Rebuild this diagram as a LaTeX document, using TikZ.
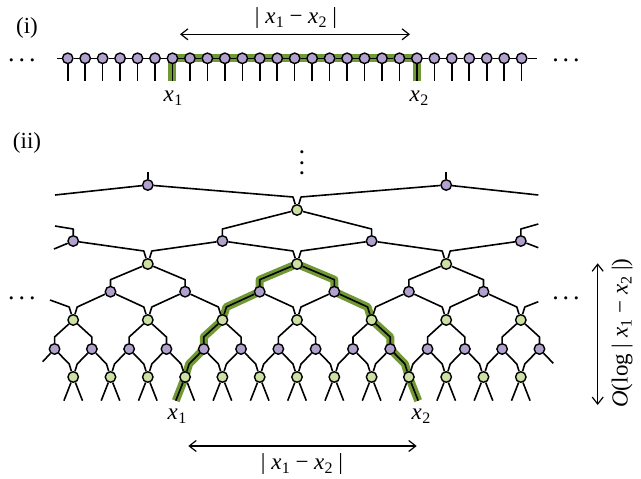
\documentclass[tikz,border=0pt]{standalone}
\usepackage{fontspec}
\setmainfont{Liberation Serif}
\usetikzlibrary{calc,arrows.meta}
\pgfdeclarelayer{hl}
\pgfdeclarelayer{bg}
\pgfsetlayers{hl,bg,main}
\definecolor{pur}{RGB}{178,160,205}
\definecolor{grn}{RGB}{205,225,165}
\definecolor{hlc}{RGB}{112,152,52}
\newcommand\xsub[1]{{\itshape x}\kern0.3pt\raisebox{-0.4ex}{\fontsize{16}{16}\selectfont #1}}
\begin{document}
\begin{tikzpicture}[x=1pt,y=-1pt,
  pnode/.style={circle,draw=black,line width=1.4pt,fill=pur,minimum size=10.5pt,inner sep=0pt},
  gnode/.style={circle,draw=black,line width=1.4pt,fill=grn,minimum size=10.5pt,inner sep=0pt},
  wire/.style={line width=1.6pt,black,line join=round},
  hlpath/.style={line width=8pt,hlc,line join=round,line cap=butt},
  dim/.style={line width=1.2pt,{Straight Barb[length=7pt,width=11pt]}-{Straight Barb[length=7pt,width=11pt]}},
  lbl/.style={font=\fontsize{23}{27}\selectfont,inner sep=0pt},
  dots/.style={font=\fontsize{26}{28}\selectfont,inner sep=0pt}]
\useasboundingbox (0,0) rectangle (641,479);
% ---------------- (i) ----------------
\node[lbl] (ti) at (27,28) {(i)};
\foreach \k in {0,...,26}{
  \node[pnode] (a\k) at ({67.7+17.46*\k},58.3) {};
  \coordinate (b\k) at ({67.7+17.46*\k},81);
}
\coordinate (aL) at (56.7,58.3);
\coordinate (aR) at (536.7,58.3);
\begin{pgfonlayer}{bg}
  \draw[wire] (aL) -- (a0);
  \draw[wire] (a26) -- (aR);
  \foreach \k in {0,...,25}{\pgfmathtruncatemacro\n{\k+1}
    \draw[wire] (a\k) -- (a\n);}
  \foreach \k in {0,...,26}{\draw[wire] (a\k) -- (b\k);}
\end{pgfonlayer}
\begin{pgfonlayer}{hl}
  \draw[hlpath] (b6) -- (a6.center) -- (a20.center) -- (b20);
\end{pgfonlayer}
\node[dots] (da) at (22,60) {.\kern4pt.\kern4pt.};
\node[dots] (db) at (566,60) {.\kern4pt.\kern4pt.};
\node[lbl] (x1a) at (173,98) {\xsub{1}};
\node[lbl] (x2a) at (419,98) {\xsub{2}};
\coordinate (t1) at (180,34.3);
\coordinate (t2) at (410,34.3);
\draw[dim] (t1) -- (t2);
\node[lbl] (tl) at (296,18) {| \xsub{1} − \xsub{2} |};
% ---------------- (ii) ----------------
\node[lbl] (tii) at (27,143) {(ii)};
\foreach \i in {0,...,12} \node[gnode] (g7-\i) at ({297+37.3*(\i-6)},377) {};
\foreach \i in {0,...,13} \node[pnode] (p6-\i) at ({297+37.3*(\i-6.5)},349) {};
\foreach \j in {0,...,6} \node[gnode] (g5-\j) at ({297+74.6*(\j-3)},320) {};
\foreach \m in {0,...,5} \node[pnode] (p4-\m) at ({297+37.3*(2*\m-5)},291.7) {};
\foreach \n in {0,1,2} \node[gnode] (g3-\n) at ({297+149.2*(\n-1)},264) {};
\foreach \q in {0,...,3} \node[pnode] (p2-\q) at ({297+37.3*(4*\q-6)},241) {};
\node[gnode] (g1) at (297,210) {};
\node[pnode] (p0-0) at ({297-149.2},185) {};
\node[pnode] (p0-1) at ({297+149.2},185) {};
\begin{pgfonlayer}{bg}
  % bottom legs
  \foreach \i in {0,...,12}{
    \draw[wire] (g7-\i) -- ($(g7-\i)+(-9.3,23.7)$);
    \draw[wire] (g7-\i) -- ($(g7-\i)+(9.3,23.7)$);}
  % L6 -> L7
  \foreach \i in {1,...,13}{\pgfmathtruncatemacro\a{\i-1}
    \draw[wire] (p6-\i) -- ($(g7-\a)+(4,-13)$) -- (g7-\a);}
  \foreach \i in {0,...,12}{
    \draw[wire] (p6-\i) -- ($(g7-\i)+(-4,-13)$) -- (g7-\i);}
  \draw[wire] (p6-0) -- (42.7,361.7);
  \draw[wire] (p6-13) -- (553.3,363.3);
  % L5 -> L6
  \foreach \j in {0,...,6}{\pgfmathtruncatemacro\a{2*\j}\pgfmathtruncatemacro\b{2*\j+1}
    \draw[wire] (g5-\j) -- ($(p6-\a)+(0,-12)$) -- (p6-\a);
    \draw[wire] (g5-\j) -- ($(p6-\b)+(0,-12)$) -- (p6-\b);}
  % L4 -> L5
  \foreach \m in {0,...,5}{\pgfmathtruncatemacro\b{\m+1}
    \draw[wire] (p4-\m) -- ($(g5-\m)+(4,-13)$) -- (g5-\m);
    \draw[wire] (p4-\m) -- ($(g5-\b)+(-4,-13)$) -- (g5-\b);}
  \draw[wire] (g5-0) -- ($(g5-0)+(-4,-13)$) -- (50,300);
  \draw[wire] (g5-6) -- ($(g5-6)+(4,-13)$) -- (538.3,301.7);
  % L3 -> L4
  \foreach \n in {0,1,2}{\pgfmathtruncatemacro\a{2*\n}\pgfmathtruncatemacro\b{2*\n+1}
    \draw[wire] (g3-\n) -- ($(p4-\a)+(0,-12)$) -- (p4-\a);
    \draw[wire] (g3-\n) -- ($(p4-\b)+(0,-12)$) -- (p4-\b);}
  % L2 -> L3
  \foreach \q in {1,2,3}{\pgfmathtruncatemacro\a{\q-1}
    \draw[wire] (p2-\q) -- ($(g3-\a)+(4,-13)$) -- (g3-\a);}
  \foreach \q in {0,1,2}{
    \draw[wire] (p2-\q) -- ($(g3-\q)+(-4,-13)$) -- (g3-\q);}
  \draw[wire] (p2-0) -- (54,249);
  \draw[wire] (p2-3) -- (538.3,247.7);
  \draw[wire] (p2-0) -- ($(p2-0)+(0,-12)$) -- (55,226);
  \draw[wire] (p2-3) -- ($(p2-3)+(0,-12)$) -- (538.3,224);
  % L1 -> L2
  \draw[wire] (g1) -- ($(p2-1)+(0,-12)$) -- (p2-1);
  \draw[wire] (g1) -- ($(p2-2)+(0,-12)$) -- (p2-2);
  % L0 -> L1
  \draw[wire] (p0-0) -- ($(g1)+(-4,-13)$) -- (g1);
  \draw[wire] (p0-1) -- ($(g1)+(4,-13)$) -- (g1);
  \draw[wire] (p0-0) -- (55,195);
  \draw[wire] (p0-1) -- (538.3,195);
  \draw[wire] (p0-0) -- ($(p0-0)+(0,-13)$);
  \draw[wire] (p0-1) -- ($(p0-1)+(0,-13)$);
\end{pgfonlayer}
\begin{pgfonlayer}{hl}
  \draw[hlpath] ($(g7-3)+(-9.3,23.7)$) -- (g7-3.center) -- ($(g7-3)+(4,-13)$) -- (p6-4.center)
    -- ($(p6-4)+(0,-12)$) -- (g5-2.center) -- ($(g5-2)+(4,-13)$) -- (p4-2.center)
    -- ($(p4-2)+(0,-12)$) -- (g3-1.center) -- ($(p4-3)+(0,-12)$) -- (p4-3.center)
    -- ($(g5-4)+(-4,-13)$) -- (g5-4.center) -- ($(p6-9)+(0,-12)$) -- (p6-9.center)
    -- ($(g7-9)+(-4,-13)$) -- (g7-9.center) -- ($(g7-9)+(9.3,23.7)$);
\end{pgfonlayer}
\node[dots] (dc) at (22,298) {.\kern4pt.\kern4pt.};
\node[dots] (dd) at (566,298) {.\kern4pt.\kern4pt.};
\node[dots,rotate=90] (dv) at (302,163) {.\kern4pt.\kern4pt.};
\node[lbl] (x1b) at (177,416) {\xsub{1}};
\node[lbl] (x2b) at (421,416) {\xsub{2}};
\coordinate (u1) at (188.3,446);
\coordinate (u2) at (416.7,446);
\draw[dim] (u1) -- (u2);
\node[lbl] (bl) at (302,464) {| \xsub{1} − \xsub{2} |};
\coordinate (v1) at (597.7,405);
\coordinate (v2) at (597.7,263.3);
\draw[dim] (v1) -- (v2);
\node[lbl,rotate=90] (vl) at (622,333) {{\itshape O}(log | \xsub{1} − \xsub{2} |)};
\end{tikzpicture}
\end{document}
